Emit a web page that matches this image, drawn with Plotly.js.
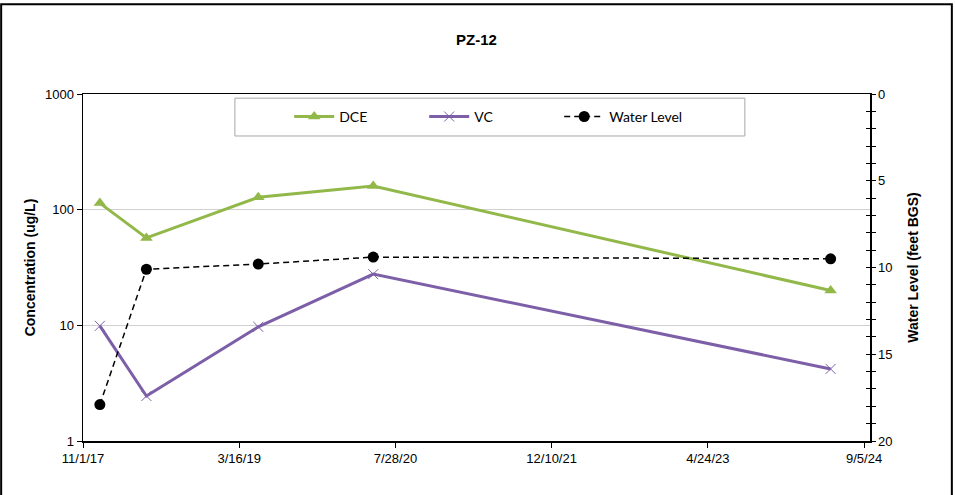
<!DOCTYPE html>
<html>
<head>
<meta charset="utf-8">
<script src="https://cdn.plot.ly/plotly-3.0.1.min.js"></script>
<style>html,body{margin:0;padding:0;background:#fff;}#chart{width:955px;height:495px;}</style>
</head>
<body>
<div id="chart"></div>
<script>
// Sample dates
const sampleDates = ["2017-12-25", "2018-05-23", "2019-05-16", "2020-05-18", "2024-05-21"];
// Concentrations (ug/L)
const dceValues = [114, 57, 128, 160, 20];
const vcValues = [9.9, 2.45, 9.7, 27.7, 4.2];
// Water level (feet BGS)
const waterLevel = [17.9, 10.1, 9.8, 9.4, 9.5];
// X tick labels
const xTickVals = ["2017-11-01", "2019-03-16", "2020-07-28", "2021-12-10", "2023-04-24", "2024-09-05"];
const xTickText = ["11/1/17", "3/16/19", "7/28/20", "12/10/21", "4/24/23", "9/5/24"];
const yTickVals = [1, 10, 100, 1000];
const yTickText = ["1", "10", "100", "1000"];

const narrow = "Liberation Sans Narrow, Arial Narrow, Liberation Sans, sans-serif";
const sans = "Liberation Sans, Arial, sans-serif";

const traces = [
  {
    x: sampleDates, y: dceValues, name: "DCE", type: "scatter", mode: "lines+markers",
    line: {color: "#92B84A", width: 3},
    marker: {symbol: "triangle-up", size: 11, color: "#92B84A"},
    xaxis: "x", yaxis: "y"
  },
  {
    x: sampleDates, y: vcValues, name: "VC", type: "scatter", mode: "lines+markers",
    line: {color: "#7D5FA8", width: 3},
    marker: {symbol: "x-thin", size: 10, color: "#7D5FA8", line: {color: "#7D5FA8", width: 1}},
    xaxis: "x", yaxis: "y"
  },
  {
    x: sampleDates, y: waterLevel, name: "Water Level", type: "scatter", mode: "lines+markers",
    line: {color: "#000000", width: 1.5, dash: "6px,4px"},
    marker: {symbol: "circle", size: 11, color: "#000000"},
    xaxis: "x", yaxis: "y2"
  },
  {
    x: sampleDates, y: waterLevel, name: "wl-axis", type: "scatter", mode: "markers",
    marker: {opacity: 0, size: 1}, showlegend: false, hoverinfo: "skip",
    xaxis: "x", yaxis: "y3"
  }
];

const layout = {
  width: 955, height: 495,
  margin: {l: 83, r: 85, t: 94, b: 54},
  paper_bgcolor: "#ffffff", plot_bgcolor: "#ffffff",
  font: {family: sans, size: 13, color: "#000"},
  title: {text: "<b>PZ-12</b>", x: 0.5, xref: "paper", y: 0.93, yref: "container",
          font: {family: sans, size: 15, color: "#000"}},
  showlegend: true,
  legend: {
    orientation: "h", x: 0.262, y: 0.934, xanchor: "left", yanchor: "middle",
    bgcolor: "rgba(0,0,0,0)", borderwidth: 0,
    font: {family: "Lato, Liberation Sans, sans-serif", size: 14, color: "#000"},
    entrywidth: 80, entrywidthmode: "pixels", traceorder: "normal",
    itemwidth: 40
  },
  xaxis: {
    type: "date", range: ["2017-11-01", "2024-09-24"],
    tickvals: xTickVals, ticktext: xTickText,
    ticks: "outside", ticklen: 5, tickwidth: 1, tickcolor: "#000",
    showline: true, linecolor: "#000", linewidth: 1.5, mirror: true,
    showgrid: false, zeroline: false,
    tickfont: {family: narrow, size: 13, color: "#000"}
  },
  yaxis: {
    type: "log", range: [0, 3],
    tickvals: yTickVals, ticktext: yTickText,
    ticks: "outside", ticklen: 5, tickwidth: 1, tickcolor: "#000",
    showline: true, linecolor: "#000", linewidth: 1.5,
    showgrid: true, gridcolor: "#d0d0d0", gridwidth: 1, zeroline: false,
    tickfont: {family: narrow, size: 13, color: "#000"},
    title: {text: "<b>Concentration (ug/L)</b>", standoff: 6, font: {family: sans, size: 14, color: "#000"}}
  },
  yaxis2: {
    overlaying: "y", side: "right", anchor: "x",
    range: [20, 0], dtick: 5, tick0: 0,
    ticks: "outside", ticklen: 4, tickwidth: 1, tickcolor: "#000",
    minor: {dtick: 1, ticks: "outside", ticklen: 4, tickwidth: 1, tickcolor: "#000", showgrid: false},
    showline: true, linecolor: "#000", linewidth: 1.5,
    showgrid: false, zeroline: false,
    tickfont: {family: narrow, size: 13, color: "#000"},
    title: {text: "<b>Water Level (feet BGS)</b>", standoff: 16, font: {family: sans, size: 14, color: "#000"}}
  },
  yaxis3: {
    overlaying: "y", side: "right", anchor: "x",
    range: [20, 0], dtick: 5, tick0: 0,
    ticks: "inside", ticklen: 4, tickwidth: 1, tickcolor: "#000",
    minor: {dtick: 1, ticks: "inside", ticklen: 4, tickwidth: 1, tickcolor: "#000", showgrid: false},
    showticklabels: false, showline: false, showgrid: false, zeroline: false
  },
  shapes: [
    {type: "rect", xref: "paper", yref: "paper", x0: -0.104, x1: 1.104, y0: -0.3, y1: 1.259,
     line: {color: "#000", width: 2}, fillcolor: "rgba(0,0,0,0)", layer: "below"},
    {type: "rect", xref: "paper", yref: "paper", x0: 0.193, x1: 0.841, y0: 0.879, y1: 0.988,
     line: {color: "#a6a6a6", width: 1}, fillcolor: "rgba(0,0,0,0)", layer: "above"}
  ]
};

Plotly.newPlot("chart", traces, layout, {displayModeBar: false, staticPlot: true});
</script>
</body>
</html>
